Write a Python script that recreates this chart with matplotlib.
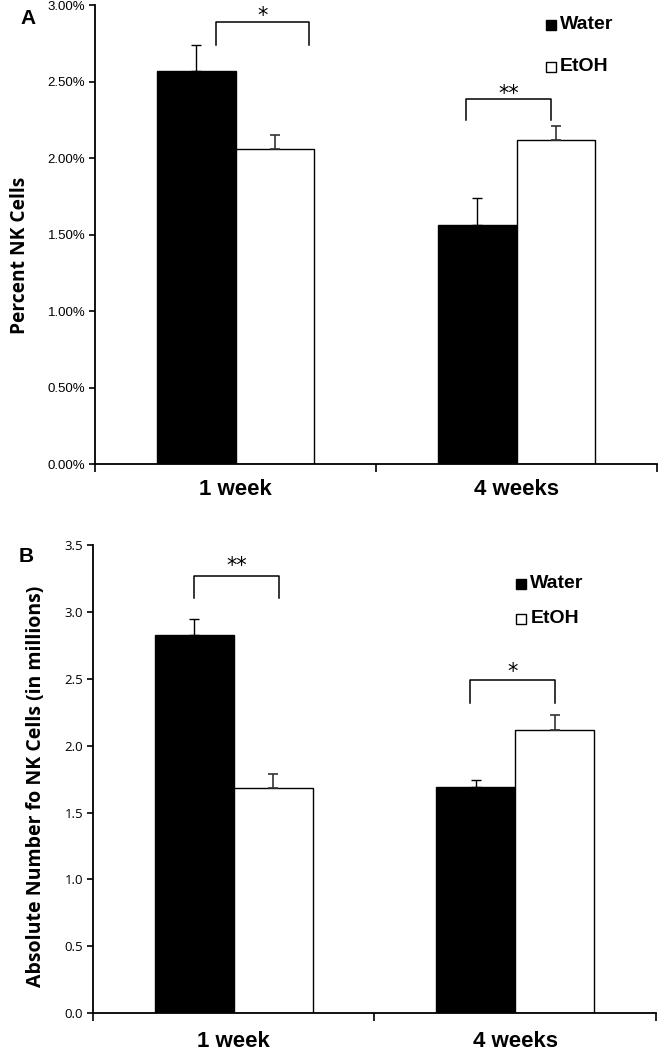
import numpy as np
import matplotlib.pyplot as plt
from matplotlib import transforms

# data
groups = ["1 week", "4 weeks"]
series = ["Water", "EtOH"]

pct_water = [2.57, 1.56]
pct_water_err = [0.17, 0.18]
pct_etoh = [2.06, 2.12]
pct_etoh_err = [0.09, 0.09]

abs_water = [2.83, 1.69]
abs_water_err = [0.12, 0.05]
abs_etoh = [1.68, 2.12]
abs_etoh_err = [0.11, 0.11]

# significance brackets: (x0, x1, top, leg bottom, star centre, label)
pct_sig = [(-0.07, 0.26, 2.89, 2.74, 2.97, "*"), (0.82, 1.12, 2.385, 2.25, 2.46, "**")]
abs_sig = [(-0.14, 0.16, 3.27, 3.10, 3.39, "**"), (0.84, 1.14, 2.49, 2.32, 2.60, "*")]

arial = "Liberation Sans"
calibri = "Open Sans"

x = np.arange(len(groups))
w = 0.28


def draw_panel(fig, ax, water, water_err, etoh, etoh_err, sig, ymax, step, fmt,
               tickfont, ylab, ylabsize, xpad):
    ax.bar(x - w / 2, water, w, color="black", edgecolor="black", linewidth=1, zorder=2)
    ax.bar(x + w / 2, etoh, w, color="white", edgecolor="black", linewidth=1, zorder=2)
    z = np.zeros(len(x))
    ax.errorbar(x - w / 2, water, yerr=[z, water_err], fmt="none", ecolor="black",
                elinewidth=1, capsize=3.5, capthick=1, zorder=1)
    ax.errorbar(x + w / 2, etoh, yerr=[z, etoh_err], fmt="none", ecolor="#333333",
                elinewidth=1.2, capsize=3.5, capthick=1.2, zorder=3)
    # star glyph sits high in the em box, so shift the baseline down
    star_tr = transforms.offset_copy(ax.transData, fig=fig, y=-9, units="points")
    for x0, x1, top, bot, sy, lab in sig:
        ax.plot([x0, x0, x1, x1], [bot, top, top, bot], color="black", lw=1.1,
                solid_joinstyle="round", clip_on=False)
        ax.text((x0 + x1) / 2, sy, lab, ha="center", va="baseline", transform=star_tr,
                fontsize=15, family="DejaVu Sans", clip_on=False)
    ax.set_xlim(-0.5, 1.5)
    ax.set_ylim(0, ymax)
    ticks = np.arange(0, ymax + step / 2, step)
    ax.set_yticks(ticks)
    ax.set_yticklabels([fmt % v for v in ticks], family=tickfont, fontsize=9.5)
    ax.set_xticks(x)
    ax.set_xticklabels(groups, family=arial, fontsize=16, fontweight="bold")
    ax.set_xticks([-0.5, 0.5, 1.5], minor=True)
    ax.tick_params(axis="x", which="major", length=0, pad=xpad)
    ax.tick_params(axis="x", which="minor", length=6, width=1.2, direction="out")
    ax.tick_params(axis="y", length=4, width=1.2, direction="out", pad=3)
    for s in ["top", "right"]:
        ax.spines[s].set_visible(False)
    for s in ["left", "bottom"]:
        ax.spines[s].set_linewidth(1.3)
    ax.set_ylabel(ylab, family=calibri, fontweight="bold", fontsize=ylabsize)


fig = plt.figure(figsize=(6.64, 10.5), dpi=100)

axA = fig.add_axes([0.143, 0.558, 0.847, 0.437])
draw_panel(fig, axA, pct_water, pct_water_err, pct_etoh, pct_etoh_err, pct_sig,
           3.0, 0.5, "%.2f%%", arial, "Percent NK Cells", 13.8, 11)
axA.yaxis.set_label_coords(-0.116, 0.455)

axB = fig.add_axes([0.140, 0.035, 0.848, 0.446])
draw_panel(fig, axB, abs_water, abs_water_err, abs_etoh, abs_etoh_err, abs_sig,
           3.5, 0.5, "%.1f", calibri, "Absolute Number fo NK Cells (in millions)", 14, 12.5)
axB.yaxis.set_label_coords(-0.083, 0.485)

# panel letters
fig.text(20 / 664, 1 - 18 / 1050, "A", family=arial, fontweight="bold", fontsize=15,
         ha="left", va="center")
fig.text(19 / 664, 1 - 557 / 1050, "B", family=arial, fontweight="bold", fontsize=15,
         ha="left", va="center")

# legends as square markers plus text
legend_pos = [(axA, 0.81, [0.957, 0.866]), (axB, 0.76, [0.917, 0.842])]
for ax, lx, lys in legend_pos:
    for name, fc, ly in zip(series, ["black", "white"], lys):
        ax.plot([lx], [ly], marker="s", ms=7.5, mfc=fc, mec="black", mew=1,
                transform=ax.transAxes, clip_on=False)
        ax.text(lx + 0.017, ly, name, transform=ax.transAxes, ha="left", va="center",
                family=arial, fontweight="bold", fontsize=14)

fig.savefig("out.png", dpi=100)
